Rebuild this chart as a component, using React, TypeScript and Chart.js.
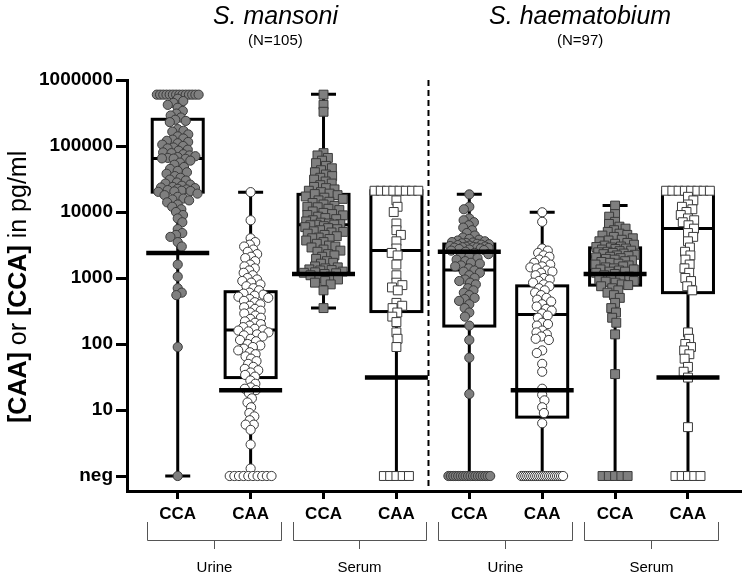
import { useEffect, useRef } from "react";
import { Chart, registerables } from "chart.js";

Chart.register(...registerables);

// ---------- data ----------
const categories = ["CCA", "CAA", "CCA", "CAA", "CCA", "CAA", "CCA", "CAA"];
const speciesTitles = ["S. mansoni", "S. haematobium"];
const speciesCounts = ["(N=105)", "(N=97)"];
const specimenLabels = ["Urine", "Serum", "Urine", "Serum"];
const yTickValues = [1, 10, 100, 1000, 10000, 100000, 1000000];

const boxMin = [1, 1, 350, 1, 1, 1, 1, 1];
const boxQ1 = [20000, 31, 1200, 310, 187, 7.8, 780, 600];
const boxMedian = [64500, 163, 6400, 2600, 1320, 280, 2100, 5600];
const boxQ3 = [254000, 620, 18500, 21000, 3270, 760, 2860, 20500];
const boxMax = [600000, 20000, 610000, 21000, 18500, 9900, 12500, 21000];
const cutoffs = [2400, 20, 1150, 31, 2500, 20, 1150, 31];

const mansoniUrineCCA = [
  600000, 600000, 600000, 600000, 600000, 600000, 600000, 600000, 600000, 600000, 600000, 600000, 600000, 600000,
  520000, 480000, 450000, 420000, 380000, 340000, 310000, 290000, 270000, 250000, 240000, 230000,
  180000, 170000, 165000, 150000, 140000, 130000, 125000, 120000, 115000, 110000, 105000, 100000, 95000, 92000,
  88000, 85000, 80000, 78000, 75000, 72000, 70000, 68000, 66000, 65000, 64500, 64000,
  60000, 56000, 52000, 48000, 45000, 42000, 40000, 38000, 35000, 33000, 31000, 30000, 28000, 27000, 26000,
  25000, 24000, 23500, 23000, 22500, 22000, 21500, 21000, 20800, 20500, 20200,
  19000, 18000, 17000, 16000, 15500, 15000, 14000, 13000, 12000, 11000, 10000, 9000, 8000, 7000,
  5500, 4800, 4500, 4200, 3500, 3000,
  1600, 1050, 700, 600, 550, 90, 1,
];
const mansoniUrineCAA = [
  20000, 7500, 4000, 3500, 3200, 3000, 2700, 2500, 2300, 2100, 2000, 1800, 1600, 1500, 1400, 1300, 1200, 1100,
  1000, 950, 900, 850, 800, 750, 700, 650,
  600, 580, 560, 540, 520, 500, 480, 450, 430, 400, 380, 360, 340, 320, 300, 290, 270, 250, 240, 220, 210, 200,
  190, 180, 170, 165,
  160, 155, 150, 140, 135, 130, 120, 115, 110, 100, 95, 90, 85, 80, 75, 70, 65, 60, 55, 50, 45, 42, 40, 37, 34, 32,
  28, 25, 22, 21, 20, 18, 15, 13, 11, 9, 8, 7, 6, 6, 5, 3, 1.3,
  1, 1, 1, 1, 1, 1, 1, 1, 1, 1,
];
const mansoniSerumCCA = [
  600000, 420000, 330000,
  78000, 72000, 66000, 60000, 55000, 50000, 46000, 43000, 40000, 37000, 35000, 33000, 31000, 29000, 27000,
  25500, 24000, 23000, 22000, 21000, 20000, 19000, 18700,
  18000, 17200, 16500, 15800, 15000, 14300, 13700, 13000, 12400, 12000, 11800, 11200, 10700, 10200, 9700,
  9300, 9000, 8900, 8500, 8100, 7800, 7500, 7200, 6900, 6700, 6550, 6450, 6420,
  6300, 6100, 5900, 5700, 5500, 5300, 5100, 5000, 4900, 4700, 4500, 4300, 4100, 4000, 3900, 3700, 3500, 3300,
  3100, 3000, 2900, 2700, 2600, 2500, 2300, 2200, 2100, 1950, 1800, 1700, 1650, 1500, 1450,
  1400, 1350, 1320, 1300, 1250, 1220, 1200, 1180, 1150, 1100, 1050, 1000, 950, 900, 850, 800, 650, 350,
];
const mansoniSerumCAA = [
  21000, 21000, 21000, 21000, 21000, 21000, 21000, 21000,
  15000, 12000, 10000, 6700, 5300, 4500, 3600, 2800, 2400, 2200, 1600, 1100, 850, 780, 720, 650,
  420, 380, 350, 300, 260, 215, 150, 120, 90,
  1, 1, 1, 1, 1,
];
const haematobiumUrineCCA = [
  18500, 12000, 11000, 8000, 7500, 7000, 6300, 5800, 5300, 4800, 4400, 4100, 3900, 3800, 3700, 3600, 3500,
  3450, 3400, 3350, 3300, 3250, 3200, 3150, 3100, 3050, 3000, 2980, 2950, 2920, 2900, 2880, 2850, 2800, 2750,
  2700, 2650, 2600, 2500, 2400, 2300, 2200, 2100, 2000, 1900, 1800, 1700, 1650, 1550, 1500, 1400, 1300, 1250,
  1200, 1100, 1000, 950, 900, 850, 800, 700, 650, 600, 550, 500, 480, 450, 400, 350, 300, 260, 190, 115, 62, 17.5,
  1, 1, 1, 1, 1, 1, 1, 1, 1, 1, 1, 1, 1, 1, 1, 1, 1, 1,
];
const haematobiumUrineCAA = [
  9900, 7100, 2800, 2600, 2400, 2200, 2100, 1900, 1800, 1700, 1600, 1500, 1450, 1400, 1300, 1250, 1200,
  1100, 1000, 950, 900, 850, 800, 750, 700, 650, 600, 550, 500, 470, 440, 400,
  370, 340, 320, 290, 270, 250, 210, 200, 190, 160, 150, 140, 130, 120, 115,
  80, 73, 50, 38, 21, 17, 14, 11, 9, 6.3,
  1, 1, 1, 1, 1, 1, 1, 1, 1, 1, 1, 1, 1, 1, 1, 1, 1, 1, 1, 1, 1, 1,
];
const haematobiumSerumCCA = [
  12500, 9300, 8500, 7100, 6600, 6000, 5600, 5300, 5000, 4700, 4500, 4400, 4200, 4000, 3800, 3700, 3600, 3400,
  3300, 3200, 3100, 3000, 2950, 2900, 2800, 2750, 2700, 2600, 2550, 2500, 2450, 2400, 2350, 2300, 2250, 2200,
  2150, 2100, 2050, 2000, 1950, 1900, 1850, 1800, 1750, 1700, 1650, 1600, 1550, 1500, 1450, 1400, 1350, 1350,
  1300, 1250, 1250, 1200, 1150, 1100, 1050, 1020, 1000, 950, 900, 880, 850, 800, 780, 750, 700, 650, 600, 550,
  500, 420, 350, 300, 250, 210, 140, 35,
  1, 1, 1, 1, 1,
];
const haematobiumSerumCAA = [
  21000, 21000, 21000, 21000, 21000, 21000, 21000, 21000,
  17000, 15000, 13000, 12000, 11000, 10000, 9000, 8000, 7500, 7000, 6300, 5600, 4800, 4200, 3600, 2900, 2500,
  2200, 1900, 1600, 1400, 1200, 1000, 900, 750, 650,
  150, 120, 100, 90, 80, 70, 60, 45, 38, 31, 5.5,
  1, 1, 1, 1, 1,
];

const groupValues = [
  mansoniUrineCCA, mansoniUrineCAA, mansoniSerumCCA, mansoniSerumCAA,
  haematobiumUrineCCA, haematobiumUrineCAA, haematobiumSerumCCA, haematobiumSerumCAA,
];

// ---------- layout / style constants ----------
const PX_DECADE = 66;
const PX_UNIT = 73.29;
const X_MIN = -0.696;
const X_MAX = 7.737;
const Y_MIN = 0.5926;
const FONT = "'Liberation Sans', Arial, Helvetica, sans-serif";
const GREY_FILL = "#7f7f7f";
const MARK_EDGE = "#3a3a3a";

function swarmOffsets(values: number[], diam: number, maxHalf: number, tieHalf: number, tieStep: number): number[] {
  const n = values.length;
  const ys = values.map((v) => -Math.log10(v) * PX_DECADE);
  const xs: number[] = new Array(n).fill(NaN);
  const placed: number[] = [];
  const groups = new Map<number, number[]>();
  values.forEach((v, i) => {
    const a = groups.get(v) || [];
    a.push(i);
    groups.set(v, a);
  });
  groups.forEach((idx) => {
    if (idx.length >= 4) {
      const m = idx.length;
      const s = Math.min(tieStep, (2 * tieHalf) / (m - 1));
      idx.forEach((i, k) => {
        xs[i] = (k - (m - 1) / 2) * s;
        placed.push(i);
      });
    }
  });
  const order = values
    .map((_, i) => i)
    .filter((i) => isNaN(xs[i]))
    .sort((a, b) => ys[a] - ys[b]);
  let flip = 1;
  for (const i of order) {
    let d = diam;
    let found = false;
    while (!found) {
      const cands = [0];
      for (const j of placed) {
        const dy = ys[i] - ys[j];
        if (Math.abs(dy) < d) {
          const dx = Math.sqrt(d * d - dy * dy);
          cands.push(xs[j] - dx, xs[j] + dx);
        }
      }
      cands.sort((a, b) => Math.abs(a) - Math.abs(b) || flip * (a - b));
      for (const c of cands) {
        if (Math.abs(c) > maxHalf + 1e-6) continue;
        let ok = true;
        for (const j of placed) {
          const dx = c - xs[j];
          const dy = ys[i] - ys[j];
          if (dx * dx + dy * dy < d * d - 1e-6) {
            ok = false;
            break;
          }
        }
        if (ok) {
          xs[i] = c;
          found = true;
          break;
        }
      }
      d *= 0.85;
      if (!found && d < 1) {
        xs[i] = 0;
        found = true;
      }
    }
    flip = -flip;
    placed.push(i);
  }
  return xs.map((x) => x / PX_UNIT);
}

const overlayPlugin = {
  id: "overlay",
  beforeDatasetsDraw(chart: any) {
    const { ctx, chartArea } = chart;
    const x = chart.scales.x;
    const y = chart.scales.y;
    ctx.save();
    ctx.strokeStyle = "#000";
    ctx.lineWidth = 2;
    ctx.setLineDash([6, 4]);
    const sx = x.getPixelForValue(3.44);
    ctx.beginPath();
    ctx.moveTo(sx, chartArea.top);
    ctx.lineTo(sx, chartArea.bottom);
    ctx.stroke();
    ctx.setLineDash([]);
    ctx.lineWidth = 3;
    ctx.lineCap = "butt";
    for (let i = 0; i < categories.length; i++) {
      const cx = x.getPixelForValue(i);
      const hw = 25.5;
      const cap = 12.5;
      const yMin = y.getPixelForValue(boxMin[i]);
      const yQ1 = y.getPixelForValue(boxQ1[i]);
      const yMed = y.getPixelForValue(boxMedian[i]);
      const yQ3 = y.getPixelForValue(boxQ3[i]);
      const yMax = y.getPixelForValue(boxMax[i]);
      ctx.beginPath();
      ctx.moveTo(cx, yQ1);
      ctx.lineTo(cx, yMin);
      ctx.moveTo(cx, yQ3);
      ctx.lineTo(cx, yMax);
      ctx.moveTo(cx - cap, yMin);
      ctx.lineTo(cx + cap, yMin);
      ctx.moveTo(cx - cap, yMax);
      ctx.lineTo(cx + cap, yMax);
      ctx.moveTo(cx - hw, yMed);
      ctx.lineTo(cx + hw, yMed);
      ctx.stroke();
      ctx.strokeRect(cx - hw, yQ3, 2 * hw, yQ1 - yQ3);
    }
    ctx.restore();
  },
  afterDatasetsDraw(chart: any) {
    const { ctx } = chart;
    const x = chart.scales.x;
    const y = chart.scales.y;
    ctx.save();
    ctx.strokeStyle = "#000";
    ctx.lineWidth = 4.5;
    for (let i = 0; i < categories.length; i++) {
      const cx = x.getPixelForValue(i);
      const yc = y.getPixelForValue(cutoffs[i]);
      ctx.beginPath();
      ctx.moveTo(cx - 31.5, yc);
      ctx.lineTo(cx + 31.5, yc);
      ctx.stroke();
    }
    ctx.restore();
  },
  afterDraw(chart: any) {
    const { ctx } = chart;
    const x = chart.scales.x;
    ctx.save();
    ctx.fillStyle = "#000";
    ctx.textAlign = "center";
    ctx.textBaseline = "alphabetic";
    const titleX = [1.34, 5.52];
    for (let k = 0; k < 2; k++) {
      const tx = x.getPixelForValue(titleX[k]);
      ctx.font = `italic 25px ${FONT}`;
      ctx.fillText(speciesTitles[k], tx, 24);
      ctx.font = `15px ${FONT}`;
      ctx.fillText(speciesCounts[k], tx, 45);
    }
    ctx.strokeStyle = "#555";
    ctx.lineWidth = 1;
    for (let k = 0; k < 4; k++) {
      const a = x.getPixelForValue(2 * k) - 31;
      const b = x.getPixelForValue(2 * k + 1) + 30;
      const mid = Math.round((a + b) / 2) + 0.5;
      const top = 522;
      const bot = 540.5;
      ctx.beginPath();
      ctx.moveTo(Math.round(a) + 0.5, top);
      ctx.lineTo(Math.round(a) + 0.5, bot);
      ctx.lineTo(Math.round(b) + 0.5, bot);
      ctx.lineTo(Math.round(b) + 0.5, top);
      ctx.moveTo(mid, bot);
      ctx.lineTo(mid, 549);
      ctx.stroke();
      ctx.font = `15px ${FONT}`;
      ctx.fillText(specimenLabels[k], mid, 572);
    }
    const parts: [string, string][] = [
      ["[CAA]", "bold"],
      [" or ", "normal"],
      ["[CCA]", "bold"],
      [" in pg/ml", "normal"],
    ];
    ctx.translate(26, 423);
    ctx.rotate(-Math.PI / 2);
    ctx.textAlign = "left";
    let pos = 0;
    for (const [t, w] of parts) {
      ctx.font = `${w} 25px ${FONT}`;
      ctx.fillText(t, pos, 0);
      pos += ctx.measureText(t).width;
    }
    ctx.restore();
  },
};

export default function App() {
  const canvasRef = useRef<HTMLCanvasElement | null>(null);

  useEffect(() => {
    if (!canvasRef.current) return;
    const datasets = groupValues.map((vals, i) => {
      const isSerum = i % 4 >= 2;
      const isCCA = i % 2 === 0;
      const offs = isSerum
        ? swarmOffsets(vals, 6.5, 20, 22, 6.3)
        : swarmOffsets(vals, 6, 20, 21, 4.8);
      return {
        label: `${categories[i]}-${i}`,
        data: vals.map((v, k) => ({ x: i + offs[k], y: v })),
        pointStyle: isSerum ? "rect" : "circle",
        pointRadius: isSerum ? 6.3 : 4.6,
        pointBorderWidth: 1,
        pointBorderColor: MARK_EDGE,
        pointBackgroundColor: isCCA ? GREY_FILL : "#ffffff",
        showLine: false,
        clip: false as any,
      };
    });

    const chart = new Chart(canvasRef.current, {
      type: "scatter",
      data: { datasets: datasets as any },
      options: {
        animation: false,
        responsive: false,
        devicePixelRatio: 1,
        events: [],
        layout: { padding: { top: 80, right: 4, bottom: 0, left: 0 } },
        plugins: { legend: { display: false }, tooltip: { enabled: false } },
        scales: {
          x: {
            type: "linear",
            min: X_MIN,
            max: X_MAX,
            afterFit: (scale: any) => {
              scale.height = 85;
            },
            afterBuildTicks: (scale: any) => {
              scale.ticks = categories.map((_, i) => ({ value: i }));
            },
            ticks: {
              autoSkip: false,
              maxRotation: 0,
              padding: 5,
              color: "#000",
              font: { family: FONT, size: 17, weight: "bold" },
              callback: (_v: any, index: number) => categories[index],
            },
            grid: {
              display: true,
              drawOnChartArea: false,
              drawTicks: true,
              tickLength: 8,
              tickWidth: 3,
              tickColor: "#000",
            },
            border: { display: true, width: 3, color: "#000" },
          },
          y: {
            type: "logarithmic",
            min: Y_MIN,
            max: 1000000,
            afterFit: (scale: any) => {
              scale.width = 127;
            },
            afterBuildTicks: (scale: any) => {
              scale.ticks = yTickValues.map((v) => ({ value: v }));
            },
            ticks: {
              autoSkip: false,
              padding: 3,
              color: "#000",
              font: { family: FONT, size: 19, weight: "bold" },
              callback: (v: any) => (Number(v) === 1 ? "neg" : String(v)),
            },
            grid: {
              display: true,
              drawOnChartArea: false,
              drawTicks: true,
              tickLength: 11,
              tickWidth: 3,
              tickColor: "#000",
            },
            border: { display: true, width: 3, color: "#000" },
          },
        },
      },
      plugins: [overlayPlugin as any],
    });
    return () => chart.destroy();
  }, []);

  return (
    <div style={{ position: "fixed", left: 0, top: 0, width: 749, height: 576, background: "#fff" }}>
      <canvas ref={canvasRef} width={749} height={576} style={{ display: "block" }} />
    </div>
  );
}
